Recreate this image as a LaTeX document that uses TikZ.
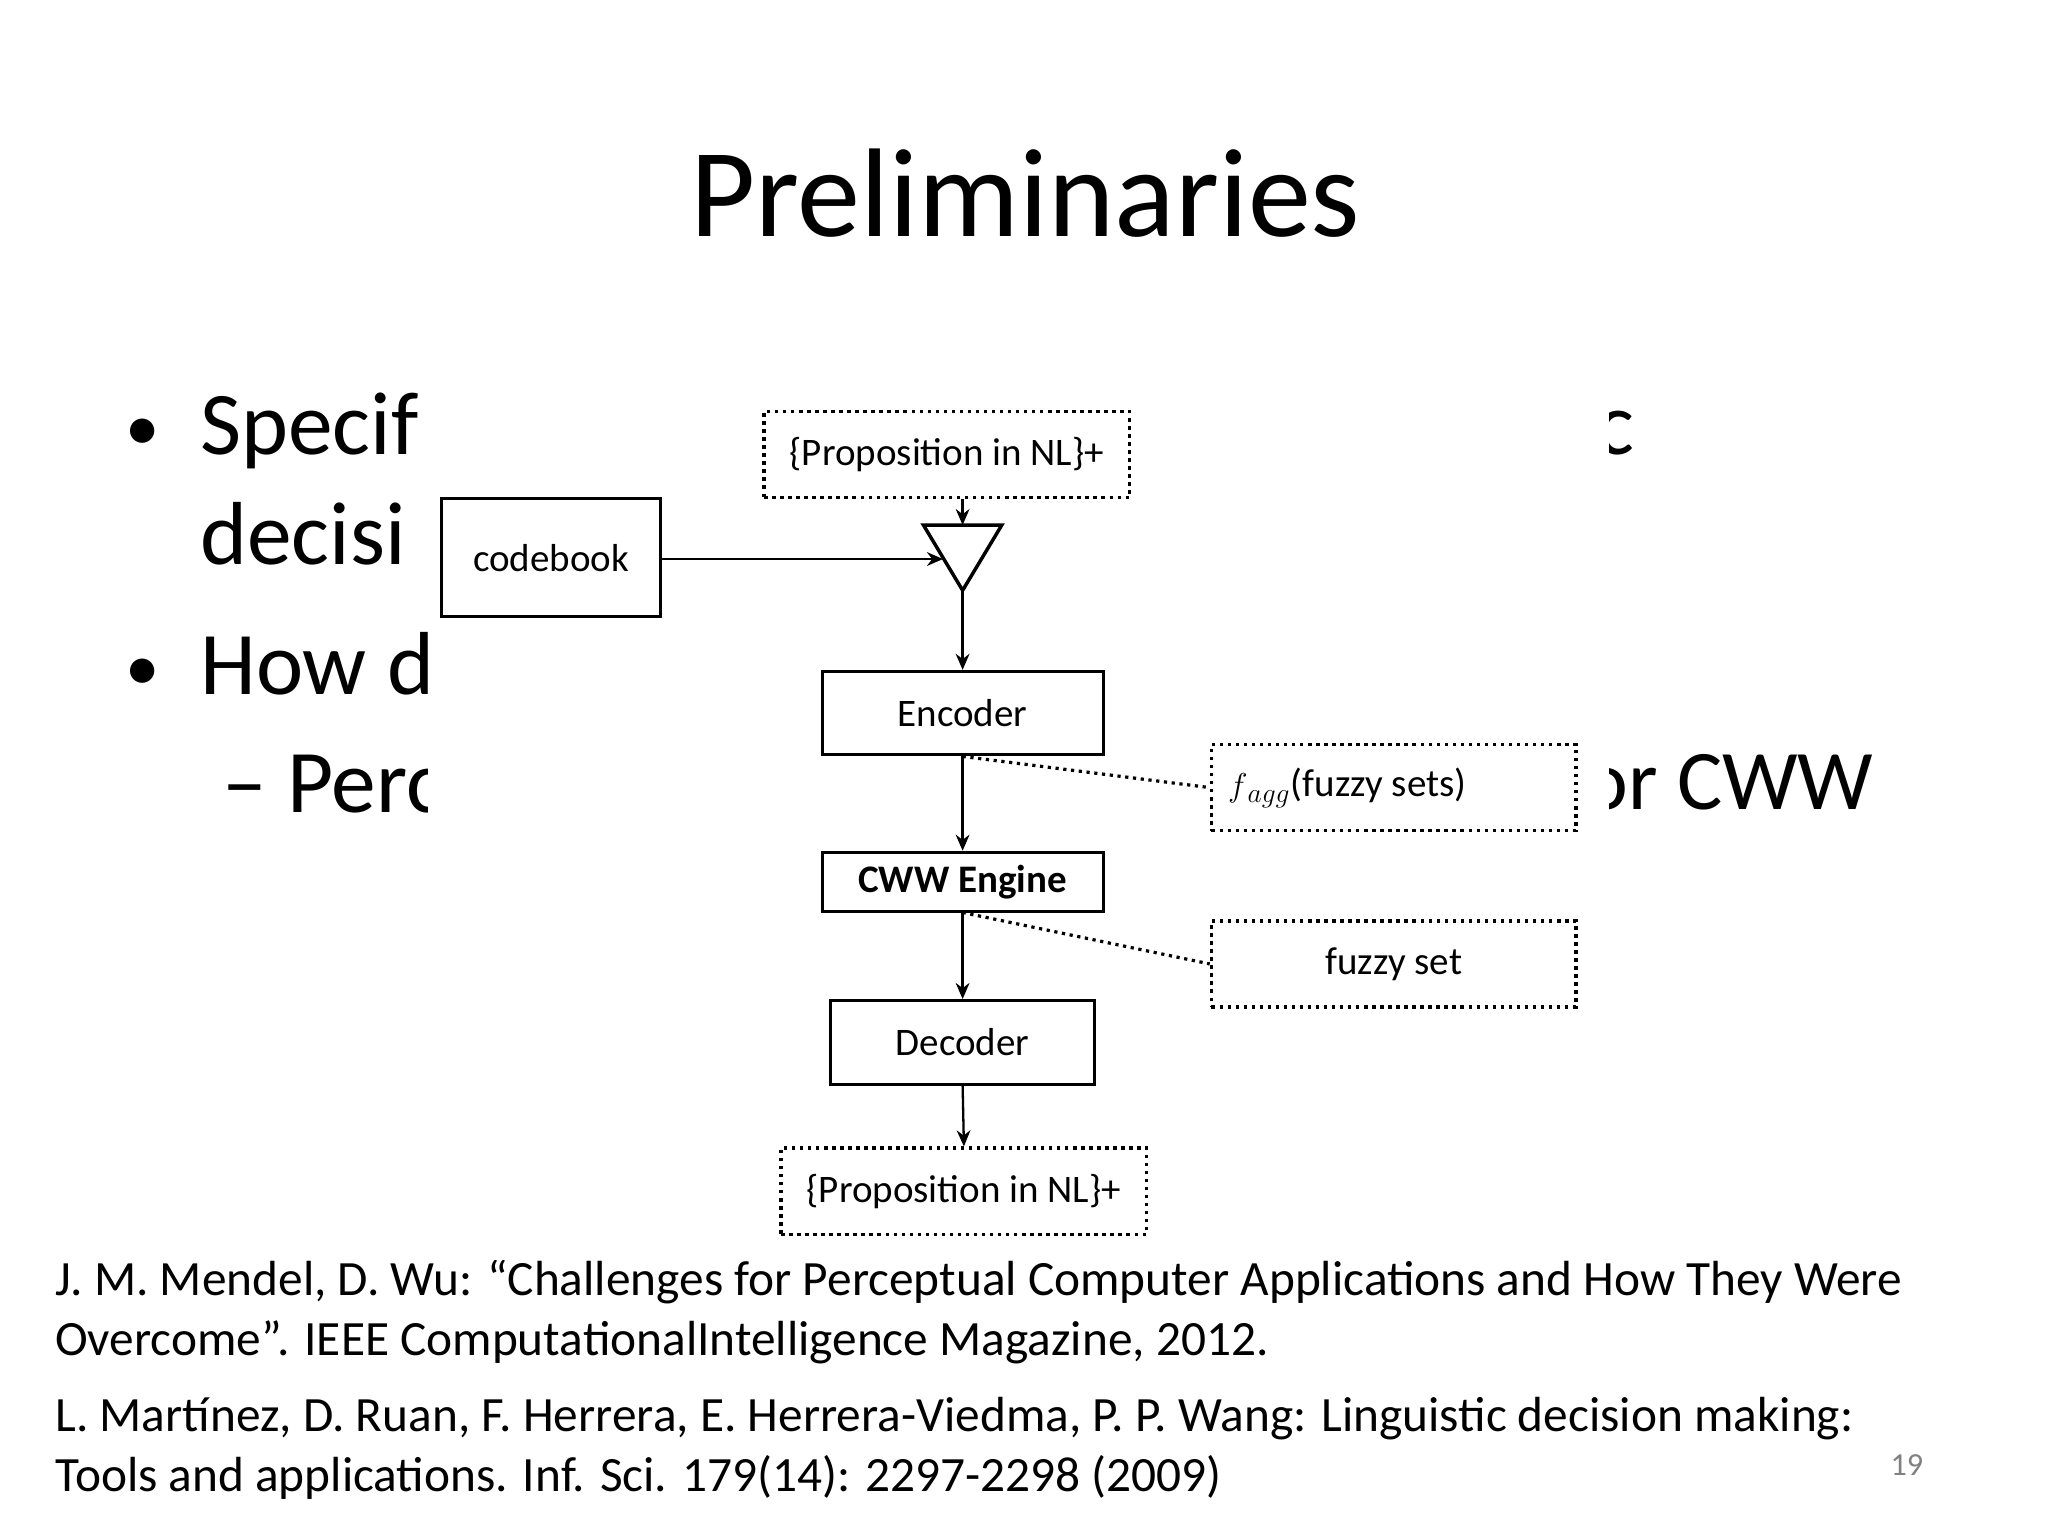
\documentclass[tikz,border=0pt]{standalone}
\usepackage{fontspec}
\setmainfont{Carlito}
\usetikzlibrary{arrows.meta}
\begin{document}
\begin{tikzpicture}[x=0.02cm,y=-0.02cm,
 solidbox/.style={draw,line width=1.3pt,fill=white,inner sep=0,font=\fontsize{17}{19}\selectfont},
 dotbox/.style={draw,line width=1.5pt,dotted,fill=white,inner sep=0,font=\fontsize{17}{19}\selectfont},
 arr/.style={-{Stealth[length=7pt,width=6pt]},line width=1pt},
 big/.style={anchor=base west,inner sep=0,font=\fontsize{39}{44}\selectfont},
 bul/.style={anchor=base west,inner sep=0,font=\fontsize{30}{34}\selectfont},
 foot/.style={anchor=base west,inner sep=0,font=\fontsize{21.5}{24}\selectfont}]
\useasboundingbox (0,0) rectangle (1568,1176);
\fill[white] (0,0) rectangle (1568,1176);
\node[inner sep=0,font=\fontsize{55}{60}\selectfont] (title) at (785,148) {Preliminaries};
% bullet fragments
\node[bul] (b1) at (96,345) {•};
\node[big] (t1) at (153,348) {Specif};
\node[big] (t1b) at (1222,348) {c};
\node[big] (t2) at (153,432) {decisi};
\node[bul] (b2) at (96,529) {•};
\node[big] (t3) at (153,532) {How d};
\node[big] (t4) at (170,622) {– Perc};
\node[big,font=\fontsize{37}{42}\selectfont] (t4b) at (1212,620) {or CWW};
% footer
\node[foot] (f1) at (42,992) {J. M. Mendel, D. Wu: “Challenges for Perceptual Computer Applications and How They Were};
\node[foot] (f2) at (42,1038) {Overcome”. IEEE ComputationalIntelligence Magazine, 2012.};
\node[foot] (f3) at (42,1096) {L. Martínez, D. Ruan, F. Herrera, E. Herrera-Viedma, P. P. Wang: Linguistic decision making:};
\node[foot] (f4) at (42,1142) {Tools and applications. Inf. Sci. 179(14): 2297-2298 (2009)};
\node[inner sep=0,text=gray,font=\fontsize{14}{16}\selectfont] (pg) at (1460,1122) {19};
% picture overlay
\fill[white] (328,296) rectangle (1232,965);
% diagram
\node[dotbox,minimum width=5.6cm,minimum height=1.32cm] (p1) at (725,348) {\{Proposition in NL\}+};
\coordinate (tl) at (707,402); \coordinate (tr) at (767,402); \coordinate (ta) at (737,452);
\draw[line width=1.5pt,fill=white] (tl) -- (tr) -- (ta) -- cycle;
\coordinate (ttop) at (737,402); \coordinate (tin) at (722,428);
\node[solidbox,minimum width=3.36cm,minimum height=1.8cm] (cb) at (422,427) {codebook};
\node[solidbox,minimum width=4.3cm,minimum height=1.28cm] (enc) at (737,546) {Encoder};
\node[solidbox,minimum width=4.3cm,minimum height=0.9cm,font=\fontsize{17}{19}\selectfont\bfseries] (cww) at (737,675) {CWW Engine};
\node[solidbox,minimum width=4.04cm,minimum height=1.28cm] (dec) at (737,798) {Decoder};
\node[dotbox,minimum width=5.6cm,minimum height=1.32cm] (p2) at (738,912) {\{Proposition in NL\}+};
\node[dotbox,minimum width=5.58cm,minimum height=1.32cm] (fa) at (1067,603) {};
\node[inner sep=0,anchor=west,font=\fontsize{17}{19}\selectfont] (fat) at (940,603) {{\Large$f$}$_{agg}$(fuzzy sets)};
\node[dotbox,minimum width=5.58cm,minimum height=1.32cm] (fs) at (1067,738) {fuzzy set};
\draw[arr] (p1.south -| ttop) -- (ttop);
\draw[arr] (cb.east |- tin) -- (tin);
\draw[arr] (ta) -- (enc.north);
\draw[arr] (enc.south) -- (cww.north);
\draw[arr] (cww.south) -- (dec.north);
\draw[arr] (dec.south) -- (p2.north);
\draw[line width=1.4pt,dotted] (enc.south) -- (fa.west);
\draw[line width=1.4pt,dotted] (cww.south) -- (fs.west);
\end{tikzpicture}
\end{document}
